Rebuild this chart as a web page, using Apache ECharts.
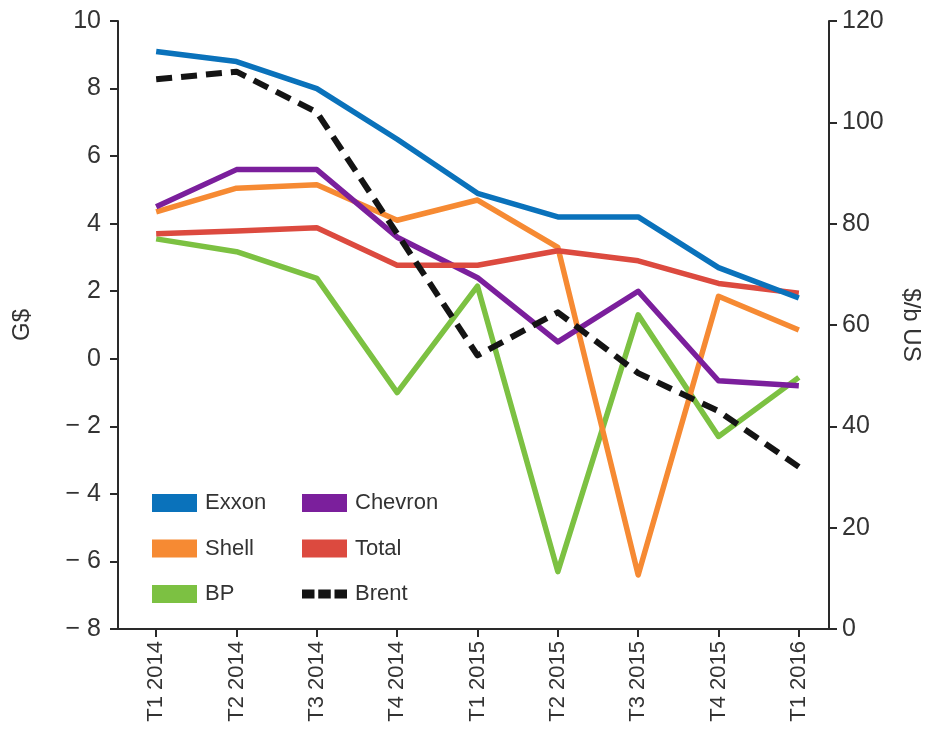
<!DOCTYPE html>
<html>
<head>
<meta charset="utf-8">
<script src="https://cdn.jsdelivr.net/npm/echarts@6/dist/echarts.min.js"></script>
<style>
html,body{margin:0;padding:0;background:#fff;}
#chart{width:935px;height:755px;}
</style>
</head>
<body>
<div id="chart"></div>
<script>
const categories = ['T1 2014','T2 2014','T3 2014','T4 2014','T1 2015','T2 2015','T3 2015','T4 2015','T1 2016'];
const exxon   = [9.1, 8.8, 8.0, 6.5, 4.9, 4.2, 4.2, 2.7, 1.8];
const chevron = [4.5, 5.6, 5.6, 3.6, 2.4, 0.5, 2.0, -0.65, -0.8];
const shell   = [4.35, 5.05, 5.15, 4.1, 4.7, 3.3, -6.4, 1.85, 0.85];
const total   = [3.7, 3.78, 3.88, 2.77, 2.77, 3.2, 2.9, 2.23, 1.94];
const bp      = [3.55, 3.17, 2.38, -1.0, 2.15, -6.3, 1.3, -2.3, -0.55];
const brent   = [108.5, 110, 102, 78, 54, 62.5, 50.5, 43, 32];
const leftTicks = {min: -8, max: 10, interval: 2};
const rightTicks = {min: 0, max: 120, interval: 20};

const FONT = '"Liberation Sans", Arial, Helvetica, sans-serif';
const colors = {Exxon:'#0a72bb', Chevron:'#7b1f9c', Shell:'#f68a33', Total:'#dc4a3f', BP:'#7cc142', Brent:'#141414'};
const brentIcon = 'path://M0,0L0,0M45,18L45,18M0,4.5h12.5v9h-12.5zM16.25,4.5h12.5v9h-12.5zM32.5,4.5h12.5v9h-12.5z';

const chart = echarts.init(document.getElementById('chart'), null, {renderer:'canvas'});
const axisCol = '#2a2a2a';
function lineSeries(name, data, yIdx, extra){
  return Object.assign({
    name: name, type: 'line', data: data, xAxisIndex: 0, yAxisIndex: yIdx,
    symbol: 'none', color: colors[name],
    lineStyle: {width: 5.5, color: colors[name], cap: 'butt', join: 'round'},
    itemStyle: {color: colors[name]},
    emphasis: {disabled: true}, animation: false
  }, extra || {});
}
const legendCommon = {
  orient: 'vertical', itemWidth: 45, itemHeight: 18, itemGap: 23.5,
  textStyle: {fontFamily: FONT, fontSize: 22, color: '#333', lineHeight: 22, padding:[0,0,0,3]},
  itemStyle: {borderWidth: 0}, selectedMode: false, top: 487
};
const option = {
  backgroundColor: '#fff',
  animation: false,
  grid: [
    {left: 116, right: 96, top: 21, height: 608},
    {left: 118, right: 106, top: 21, height: 608}
  ],
  legend: [
    Object.assign({}, legendCommon, {left: 147, data: [
      {name:'Exxon', icon:'rect'}, {name:'Shell', icon:'rect'}, {name:'BP', icon:'rect'}]}),
    Object.assign({}, legendCommon, {left: 297, data: [
      {name:'Chevron', icon:'rect'}, {name:'Total', icon:'rect'}, {name:'Brent', icon: brentIcon}]})
  ],
  xAxis: [
    {type: 'category', gridIndex: 0, data: categories, boundaryGap: true, position: 'bottom',
     axisLine: {show: false, onZero: false},
     axisTick: {show: true, alignWithLabel: true, length: 8, lineStyle: {color: axisCol, width: 2}},
     axisLabel: {rotate: 90, fontFamily: FONT, fontSize: 22, color: '#333', margin: 12, interval: 0},
     splitLine: {show: false}},
    {type: 'value', gridIndex: 1, min: 0, max: 1, show: true, position: 'bottom',
     axisLine: {show: true, onZero: false, lineStyle: {color: axisCol, width: 2}},
     axisTick: {show: false}, axisLabel: {show: false}, splitLine: {show: false}}
  ],
  yAxis: [
    {type: 'value', gridIndex: 1, position: 'left', min: leftTicks.min, max: leftTicks.max, interval: leftTicks.interval,
     name: 'G$', nameLocation: 'middle', nameGap: 84, nameRotate: 90,
     nameTextStyle: {fontFamily: FONT, fontSize: 24, color: '#333'},
     axisLine: {show: true, onZero: false, lineStyle: {color: axisCol, width: 2}},
     axisTick: {show: true, length: 8, lineStyle: {color: axisCol, width: 2}},
     axisLabel: {fontFamily: FONT, fontSize: 25, color: '#333', margin: 17,
       formatter: v => v < 0 ? '\u2212 ' + Math.abs(v) : String(v)},
     splitLine: {show: false}},
    {type: 'value', gridIndex: 1, position: 'right', min: rightTicks.min, max: rightTicks.max, interval: rightTicks.interval,
     name: '$/b US', nameLocation: 'middle', nameGap: 70, nameRotate: -90,
     nameTextStyle: {fontFamily: FONT, fontSize: 24, color: '#333'},
     axisLine: {show: true, onZero: false, lineStyle: {color: axisCol, width: 2}},
     axisTick: {show: true, length: 8, lineStyle: {color: axisCol, width: 2}},
     axisLabel: {fontFamily: FONT, fontSize: 25, color: '#333', margin: 13},
     splitLine: {show: false}},
    {type: 'value', gridIndex: 0, position: 'left', min: leftTicks.min, max: leftTicks.max, show: false, splitLine:{show:false}},
    {type: 'value', gridIndex: 0, position: 'right', min: rightTicks.min, max: rightTicks.max, show: false, splitLine:{show:false}}
  ],
  series: [
    lineSeries('BP', bp, 2),
    lineSeries('Shell', shell, 2),
    lineSeries('Chevron', chevron, 2),
    lineSeries('Total', total, 2),
    lineSeries('Exxon', exxon, 2),
    lineSeries('Brent', brent, 3, {lineStyle: {width: 6, color: colors.Brent, type: [16, 9], cap: 'butt', join: 'round'}})
  ]
};
chart.setOption(option);
</script>
</body>
</html>
